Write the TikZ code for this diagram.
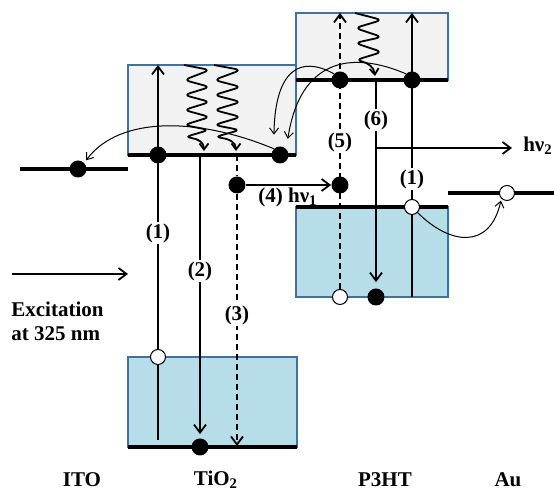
\documentclass[tikz,border=0pt]{standalone}
\usepackage{fontspec}
\setmainfont{Liberation Serif}
\usetikzlibrary{arrows.meta}
\definecolor{bordblue}{RGB}{65,113,156}
\definecolor{cbgray}{RGB}{242,242,242}
\definecolor{vbblue}{RGB}{183,222,232}
\pgfdeclarelayer{back}
\pgfdeclarelayer{lines}
\pgfsetlayers{back,lines,main}
\begin{document}
\begin{tikzpicture}[x=0.5pt,y=-0.5pt,
  band/.style={draw=bordblue,line width=1.2pt},
  level/.style={line width=1.8pt,draw=black},
  tr/.style={line width=0.9pt,-{Straight Barb[length=4pt,width=6pt]}},
  ln/.style={line width=0.9pt},
  thinarr/.style={line width=0.5pt,-{Straight Barb[length=3pt,width=4.5pt]}},
  dsh/.style={dash pattern=on 3pt off 2pt},
  dot/.style={circle,fill=black,inner sep=0pt,minimum size=8.5pt},
  hole/.style={circle,draw=black,line width=0.5pt,fill=white,inner sep=0pt,minimum size=7.5pt},
  num/.style={fill=white,inner sep=0.8pt,font=\fontsize{10.5}{12}\selectfont\bfseries},
  txt/.style={inner sep=0pt,font=\fontsize{10.5}{12}\selectfont\bfseries},
  wave/.style={line width=0.9pt,rounded corners=3pt,-{Straight Barb[length=3pt,width=4.5pt]}}
]
\useasboundingbox (0,0) rectangle (554,491);

% named points
\coordinate (cTop1) at (158,65);
\coordinate (v1bot) at (158,440);
\coordinate (c2top) at (200,155);
\coordinate (c3top) at (237,155);
\coordinate (v3bot) at (237,446);
\coordinate (l5top) at (340,13);
\coordinate (l6top) at (376,79);
\coordinate (hvb) at (376,148);
\coordinate (hvend) at (512,148);
\coordinate (l1top) at (412,13);
\coordinate (h1bot) at (412,297);
\coordinate (exA) at (12,274);
\coordinate (exB) at (128,274);

% dots and holes
\node[dot] (cA) at (158,155) {};
\node[dot] (cB) at (280,155) {};
\node[dot] (ito) at (78,169) {};
\node[dot] (t3) at (237,185) {};
\node[dot] (p4) at (340,185) {};
\node[dot] (l5) at (340,80) {};
\node[dot] (l1) at (412,80) {};
\node[hole] (h1) at (412,207) {};
\node[hole] (h5) at (340,297) {};
\node[dot] (h6) at (376,297) {};
\node[hole] (v1) at (158,357) {};
\node[dot] (v2) at (200,447) {};
\node[hole] (au) at (507,193) {};

\begin{pgfonlayer}{back}
  \filldraw[band,fill=cbgray] (128,65) rectangle (296,155);
  \filldraw[band,fill=cbgray] (296,13) rectangle (448,80);
  \filldraw[band,fill=vbblue] (128,357) rectangle (297,447);
  \filldraw[band,fill=vbblue] (296,207) rectangle (448,297);
  \draw[level] (128,155) -- (296,155);
  \draw[level] (296,80) -- (448,80);
  \draw[level] (128,447) -- (297,447);
  \draw[level] (296,207) -- (448,207);
  \draw[level] (20,169) -- (128,169);
  \draw[level] (448,193) -- (554,193);
\end{pgfonlayer}

\begin{pgfonlayer}{lines}
  % (1) TiO2
  \draw[tr] (v1) -- (cTop1);
  \draw[ln] (v1) -- (v1bot);
  % (2)
  \draw[tr,shorten >=2pt] (c2top) -- (v2);
  % (3)
  \draw[ln,dsh] (c3top) -- (t3);
  \draw[tr,dsh] (t3) -- (v3bot);
  % (4)
  \draw[tr] (t3) -- (p4);
  % (5)
  \draw[tr,dsh] (h5) -- (l5top);
  % (6)
  \draw[tr,shorten >=3pt] (l6top) -- (h6);
  \draw[tr] (hvb) -- (hvend);
  % (1) P3HT
  \draw[tr] (h1) -- (l1top);
  \draw[ln] (h1) -- (h1bot);
  % excitation
  \draw[tr] (exA) -- (exB);
  % thermalisation waves
  \draw[wave] (184,65) -- (210,70) -- (184,80) -- (210,87) -- (184,95) -- (210,102)
     -- (184,110) -- (210,117) -- (184,125) -- (209,130) -- (185,137)
     .. controls (198,139) and (204,142) .. (204,151);
  \draw[wave] (214,65) -- (241,70) -- (214,80) -- (241,87) -- (214,95) -- (241,102)
     -- (214,110) -- (241,117) -- (214,125) -- (240,130) -- (215,137)
     .. controls (229,139) and (236,142) .. (236,151);
  \draw[wave] (355,13) -- (382,20) -- (355,28) -- (382,37) -- (355,43) -- (382,52)
     -- (356,60) .. controls (368,63) and (374,67) .. (375,76);
  % charge transfer curves
  \draw[thinarr,shorten >=1.5pt] (cB.north west) .. controls (200,118) and (120,115) .. (ito.north east);
  \draw[thinarr,shorten >=7pt] (l5.north west) .. controls (300,55) and (275,70) .. (cB.north west);
  \draw[thinarr,shorten >=5pt] (l1.north west) .. controls (350,50) and (300,60) .. (cB.north east);
  \draw[thinarr,shorten >=1pt] (h1.south east) .. controls (450,245) and (490,250) .. (au.south west);
\end{pgfonlayer}

% labels
\node[num] (n1a) at (158,233) {(1)};
\node[num] (n2) at (200,271) {(2)};
\node[num] (n3) at (237,315) {(3)};
\node[num] (n5) at (340,142) {(5)};
\node[num] (n6) at (376,120) {(6)};
\node[num] (n1b) at (412,179) {(1)};
\node[txt] (n4) at (288,197) {(4) hν\textsubscript{1}};
\node[txt] (hv2) at (538,146) {hν\textsubscript{2}};
\node[txt,align=left,anchor=west] (exc) at (11,321) {Excitation\\at 325 nm};
\node[txt] (ito-l) at (82,480) {ITO};
\node[txt] (tio-l) at (216,480) {TiO\textsubscript{2}};
\node[txt] (p3ht-l) at (385,480) {P3HT};
\node[txt] (au-l) at (508,480) {Au};
\end{tikzpicture}
\end{document}
